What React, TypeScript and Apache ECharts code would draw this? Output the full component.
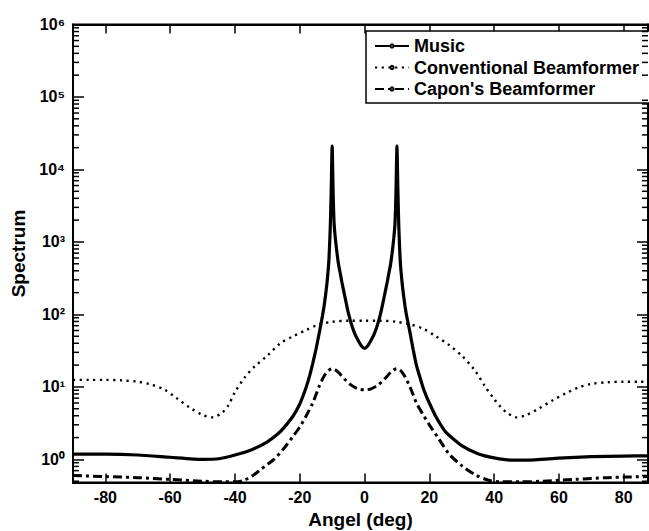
import React, { useEffect, useRef } from 'react';
import * as echarts from 'echarts';

const FONT = '"Liberation Sans", Arial, Helvetica, sans-serif';

const X_MIN = -90;
const X_MAX = 87.5;
const Y_MIN = 0.48;
const Y_MAX = 1e6;

const X_TICKS = [-80, -60, -40, -20, 0, 20, 40, 60, 80];
const SUPERSCRIPTS = ['⁰', '¹', '²', '³', '⁴', '⁵', '⁶'];
const MINOR_TICKS = [
  0.5, 0.6, 0.7, 0.8, 0.9,
  2, 3, 4, 5, 6, 7, 8, 9,
  20, 30, 40, 50, 60, 70, 80, 90,
  200, 300, 400, 500, 600, 700, 800, 900,
  2000, 3000, 4000, 5000, 6000, 7000, 8000, 9000,
  20000, 30000, 40000, 50000, 60000, 70000, 80000, 90000,
  200000, 300000, 400000, 500000, 600000, 700000, 800000, 900000,
];

const SERIES_NAMES = ['Music', 'Conventional Beamformer', "Capon's Beamformer"];

const musicAngles = [
  -90, -80, -70, -60, -50, -45, -40, -35, -30, -27, -25, -22, -20, -19, -18, -17, -16, -15, -14, -13.5, -13, -12.5, -12,
  -11.5, -11, -10.6, -10.3, -10, -9.7, -9.4, -9, -8.5, -8, -7.5, -7, -6, -5, -4, -3, -2, -1, 0,
  1, 2, 3, 4, 5, 6, 7, 7.5, 8, 8.5, 9, 9.4, 9.7, 10, 10.3, 10.6, 11, 11.5,
  12, 12.5, 13, 13.5, 14, 15, 16, 17, 18, 19, 20, 22, 25, 30, 35, 40, 45, 50, 60, 70, 80, 87.5,
];
const musicValues = [
  1.18, 1.18, 1.15, 1.07, 1.0, 1.02, 1.15, 1.35, 1.75, 2.2, 2.7, 4.0, 5.8, 7.5, 10, 14, 21, 33, 55, 72, 95, 130, 190,
  300, 560, 1500, 4900, 21000, 4900, 1800, 1100, 700, 480, 370, 280, 170, 105, 72, 54, 44, 37, 34,
  37, 44, 54, 72, 105, 170, 280, 370, 480, 700, 1100, 1800, 4900, 21000, 4900, 1500, 560, 300,
  190, 130, 95, 74, 57, 33, 20, 14, 10, 7.6, 6.0, 3.9, 2.4, 1.55, 1.2, 1.05, 0.98, 0.98, 1.04, 1.09, 1.11, 1.12,
];

const convAngles = [
  -90, -85, -80, -75, -70, -66, -62, -58, -54, -50, -47, -44, -42, -40, -37, -34, -30, -26, -22, -18, -14, -10, -5, 0,
  5, 10, 14, 18, 22, 26, 30, 34, 37, 40, 42, 44, 47, 50, 54, 58, 62, 66, 70, 75, 80, 85, 87.5,
];
const convValues = [
  12.5, 12.5, 12.5, 12.3, 11.8, 10.8, 9.3, 7.0, 5.2, 4.1, 3.8, 4.4, 5.6, 8.5, 13.5, 19, 27, 40, 50, 61, 73, 79, 82, 82,
  82, 79, 73, 64, 50, 38, 27, 17, 10.5, 6.8, 5.3, 4.4, 3.8, 4.1, 5.1, 6.5, 8.1, 9.8, 11, 11.6, 11.8, 11.8, 11.8,
];

const caponAngles = [
  -90, -80, -70, -60, -50, -44, -40, -37, -34, -32, -30, -28, -25, -22, -20, -18, -16, -15, -14, -13, -12, -11, -10, -9, -8,
  -6, -4, -2, 0, 2, 4, 6, 8, 9, 10, 11, 12, 13, 14, 15, 16, 18, 20, 23, 26, 30, 34, 38, 42, 48, 55, 65, 75, 87.5,
];
const caponValues = [
  0.6, 0.58, 0.56, 0.53, 0.5, 0.49, 0.49, 0.52, 0.62, 0.73, 0.85, 1.0, 1.4, 2.1, 2.8, 4.0, 6.0, 7.8, 10.2, 12.8, 15.2, 17.0, 17.8, 17.2, 15.8,
  12.6, 10.5, 9.4, 9.1, 9.4, 10.5, 12.6, 15.8, 17.2, 17.8, 17.0, 15.0, 12.5, 10.0, 7.8, 6.0, 4.2, 3.0, 1.9, 1.2, 0.82, 0.62, 0.52, 0.49, 0.49, 0.5, 0.53, 0.56, 0.58,
];

const zip = (xs: number[], ys: number[]) => xs.map((x, i) => [x, ys[i]]);

const powerLabel = (v: number) => {
  const e = Math.log10(v);
  const r = Math.round(e);
  if (Math.abs(e - r) > 1e-6 || r < 0 || r >= SUPERSCRIPTS.length) return ' ';
  return '10' + SUPERSCRIPTS[r];
};

export default function App() {
  const ref = useRef<HTMLDivElement>(null);
  useEffect(() => {
    const chart = echarts.init(ref.current!, null, { renderer: 'svg' });
    const tickStyle = { color: '#000', width: 1.5 };
    chart.setOption({
      animation: false,
      backgroundColor: '#fff',
      grid: {
        left: 73, right: 1, top: 24.5, bottom: 48.5,
        containLabel: false, outerBoundsMode: 'none',
        show: true, borderColor: '#000', borderWidth: 2,
      },
      legend: {
        data: SERIES_NAMES,
        orient: 'vertical',
        left: 366,
        top: 31,
        itemWidth: 34,
        itemHeight: 4,
        itemGap: 3.5,
        padding: [6, 20, 5, 8],
        borderColor: '#000',
        borderWidth: 1.5,
        backgroundColor: '#fff',
        textStyle: { fontFamily: FONT, fontSize: 18, fontWeight: 'bold', color: '#000' },
      },
      xAxis: [
        {
          type: 'value', position: 'bottom', min: X_MIN, max: X_MAX,
          axisLine: { show: true, onZero: false, lineStyle: { color: '#000', width: 2 } },
          axisTick: { show: true, inside: true, length: 9, lineStyle: tickStyle, customValues: X_TICKS },
          axisLabel: { customValues: X_TICKS, fontFamily: FONT, fontSize: 16, fontWeight: 'bold', color: '#000', margin: 7 },
          splitLine: { show: false },
          name: 'Angel (deg)', nameLocation: 'middle', nameGap: 23,
          nameTextStyle: { fontFamily: FONT, fontSize: 19, fontWeight: 'bold', color: '#000' },
        },
        {
          type: 'value', position: 'top', min: X_MIN, max: X_MAX,
          axisLine: { show: true, onZero: false, lineStyle: { color: '#000', width: 2 } },
          axisTick: { show: true, inside: true, length: 9, lineStyle: tickStyle, customValues: X_TICKS },
          axisLabel: { show: false }, splitLine: { show: false },
        },
      ],
      yAxis: [
        {
          type: 'log', position: 'left', min: Y_MIN, max: Y_MAX,
          axisLine: { show: true, onZero: false, lineStyle: { color: '#000', width: 2 } },
          axisTick: { show: true, inside: true, length: 11, lineStyle: tickStyle },
          axisLabel: {
            margin: 8, showMinLabel: false, formatter: powerLabel,
            fontFamily: FONT, fontSize: 16, fontWeight: 'bold', color: '#000',
          },
          splitLine: { show: false },
          name: 'Spectrum', nameLocation: 'middle', nameGap: 44,
          nameTextStyle: { fontFamily: FONT, fontSize: 19, fontWeight: 'bold', color: '#000' },
        },
        {
          type: 'log', position: 'right', min: Y_MIN, max: Y_MAX,
          axisLine: { show: true, onZero: false, lineStyle: { color: '#000', width: 2 } },
          axisTick: { show: true, inside: true, length: 11, lineStyle: tickStyle },
          axisLabel: { show: false },
          splitLine: { show: false },
        },
      ],
      series: [
        {
          name: 'Music', type: 'line', data: zip(musicAngles, musicValues),
          showSymbol: false, smooth: 0.2,
          lineStyle: { color: '#000', width: 3.2, type: 'solid' }, itemStyle: { color: '#000' },
        },
        {
          name: 'Conventional Beamformer', type: 'line', data: zip(convAngles, convValues),
          showSymbol: false, smooth: 0.3,
          lineStyle: { color: '#000', width: 2.4, type: [2.2, 4.5] }, itemStyle: { color: '#000' },
        },
        {
          name: "Capon's Beamformer", type: 'line', data: zip(caponAngles, caponValues),
          showSymbol: false, smooth: 0.3,
          lineStyle: { color: '#000', width: 3, type: [9, 4, 3, 4] }, itemStyle: { color: '#000' },
        },
      ],
    });

    // Minor log ticks on both vertical axes, placed through the chart's own scales
    try {
      const toPx = (x: number, y: number) =>
        chart.convertToPixel({ xAxisIndex: 0, yAxisIndex: 0 }, [x, y]) as number[];
      const elements: any[] = [];
      MINOR_TICKS.forEach((v) => {
        const pL = toPx(X_MIN, v);
        const pR = toPx(X_MAX, v);
        if (!pL || !pR) return;
        const ts = { stroke: '#000', lineWidth: 1.5 };
        elements.push({ type: 'line', silent: true, z: 50, shape: { x1: pL[0], y1: pL[1], x2: pL[0] + 6, y2: pL[1] }, style: ts });
        elements.push({ type: 'line', silent: true, z: 50, shape: { x1: pR[0], y1: pR[1], x2: pR[0] - 6, y2: pR[1] }, style: ts });
      });
      chart.setOption({ graphic: { elements } });
    } catch (e) {
      // ignore
    }
    return () => chart.dispose();
  }, []);
  return (
    <div
      ref={ref}
      style={{ position: 'fixed', left: 0, top: 0, width: 649, height: 531, background: '#fff' }}
    />
  );
}
